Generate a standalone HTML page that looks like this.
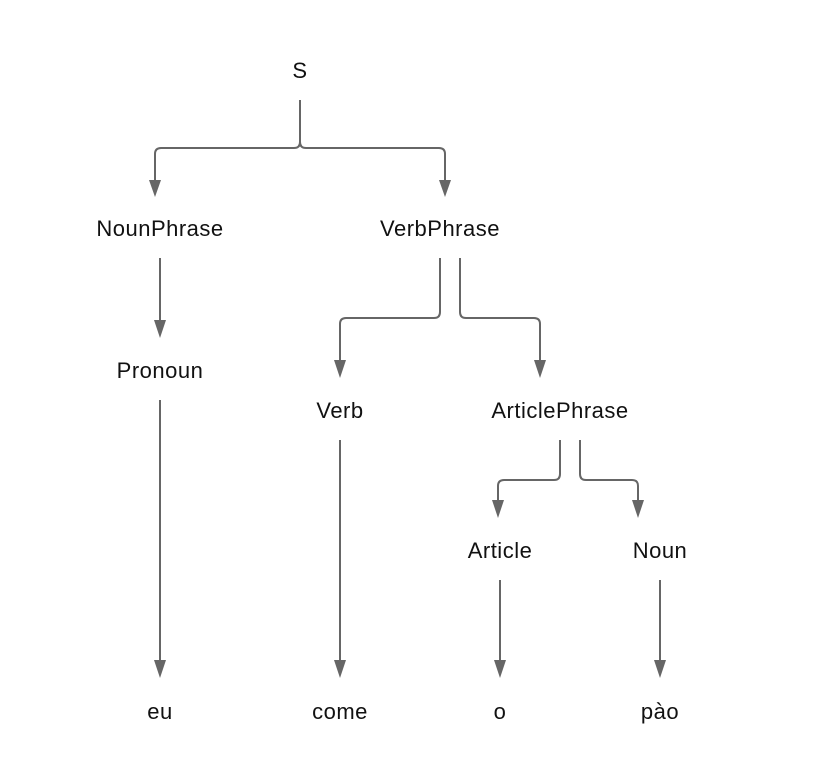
<!DOCTYPE html>
<html><head><meta charset="utf-8"><style>
html,body{margin:0;padding:0;background:#fff;}
svg{display:block;}
text{font-family:"Liberation Sans","DejaVu Sans",sans-serif;font-size:22px;letter-spacing:0.5px;fill:#111;text-anchor:middle;}
</style></head><body>
<svg width="820" height="780" viewBox="0 0 820 780" xmlns="http://www.w3.org/2000/svg">
<g fill="none" stroke="#666" stroke-width="2">
<path d="M300 100 V142 Q300 148 294 148 H161 Q155 148 155 154 V182"/>
<path d="M300 142 Q300 148 306 148 H439 Q445 148 445 154 V182"/>
<path d="M160 258 V322"/>
<path d="M160 400 V662"/>
<path d="M440 258 V312 Q440 318 434 318 H346 Q340 318 340 324 V362"/>
<path d="M460 258 V312 Q460 318 466 318 H534 Q540 318 540 324 V362"/>
<path d="M340 440 V662"/>
<path d="M560 440 V474 Q560 480 554 480 H504 Q498 480 498 486 V502"/>
<path d="M580 440 V474 Q580 480 586 480 H632 Q638 480 638 486 V502"/>
<path d="M500 580 V662"/>
<path d="M660 580 V662"/>
</g>
<g fill="#666">
<path d="M149 180 L161 180 L155 197 Z"/>
<path d="M439 180 L451 180 L445 197 Z"/>
<path d="M154 320 L166 320 L160 338 Z"/>
<path d="M154 660 L166 660 L160 678 Z"/>
<path d="M334 360 L346 360 L340 378 Z"/>
<path d="M534 360 L546 360 L540 378 Z"/>
<path d="M334 660 L346 660 L340 678 Z"/>
<path d="M492 500 L504 500 L498 518 Z"/>
<path d="M632 500 L644 500 L638 518 Z"/>
<path d="M494 660 L506 660 L500 678 Z"/>
<path d="M654 660 L666 660 L660 678 Z"/>
</g>
<text x="300" y="78">S</text>
<text x="160" y="236">NounPhrase</text>
<text x="440" y="236">VerbPhrase</text>
<text x="160" y="378">Pronoun</text>
<text x="340" y="418">Verb</text>
<text x="560" y="418">ArticlePhrase</text>
<text x="500" y="558">Article</text>
<text x="660" y="558">Noun</text>
<text x="160" y="719">eu</text>
<text x="340" y="719">come</text>
<text x="500" y="719">o</text>
<text x="660" y="719">pào</text>
</svg>
</body></html>
